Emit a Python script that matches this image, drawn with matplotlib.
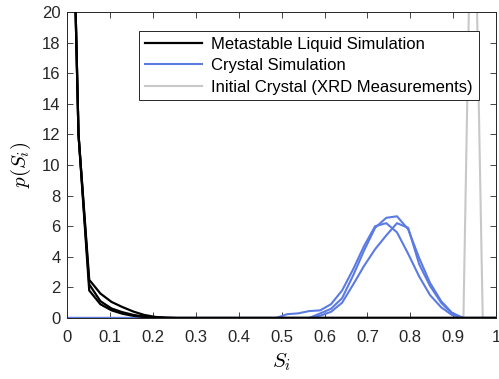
import matplotlib.pyplot as plt

plt.rcParams['font.family'] = ['Liberation Sans', 'DejaVu Sans']
plt.rcParams['mathtext.fontset'] = 'cm'

# bin centres of the histograms (S_i)
s_liquid = [0.0, 0.026, 0.051, 0.077, 0.103, 0.128, 0.154, 0.179, 0.205, 0.231, 0.256, 1.0]
liquid_1 = [43, 12, 2.5, 1.6, 1.05, 0.72, 0.42, 0.2, 0.07, 0.02, 0, 0]
liquid_2 = [43, 12, 2.2, 1.1, 0.62, 0.38, 0.2, 0.09, 0.03, 0.01, 0, 0]
liquid_3 = [43, 12, 1.8, 0.9, 0.5, 0.28, 0.14, 0.06, 0.02, 0.0, 0, 0]

s_crystal = [0.0, 0.487, 0.513, 0.538, 0.564, 0.590, 0.615, 0.641, 0.667, 0.692,
             0.718, 0.744, 0.769, 0.795, 0.821, 0.846, 0.872, 0.897, 0.923, 1.0]
crystal_1 = [0, 0, 0.25, 0.3, 0.45, 0.5, 0.9, 1.8, 3.2, 4.7,
             6.0, 6.2, 5.6, 4.2, 2.7, 1.5, 0.7, 0.2, 0, 0]
crystal_2 = [0, 0, 0, 0, 0, 0.3, 0.6, 1.3, 2.8, 4.4,
             5.9, 6.55, 6.65, 5.8, 3.9, 2.3, 1.1, 0.35, 0, 0]
crystal_3 = [0, 0, 0, 0, 0, 0.15, 0.4, 1.0, 2.2, 3.4,
             4.5, 5.4, 6.2, 5.9, 3.5, 2.1, 1.0, 0.3, 0, 0]

s_xrd = [0.0, 0.924, 0.946, 0.969, 1.0]
xrd = [0, 0, 35, 0, 0]

blue = '#5b7be3'
gray = '#c8c8c8'

fig = plt.figure(figsize=(4.99, 3.79), dpi=100)
ax = fig.add_axes([0.135, 0.161, 0.859, 0.807])

h_xrd, = ax.plot(s_xrd, xrd, color=gray, linewidth=1.5, zorder=1)
for c in [crystal_1, crystal_2, crystal_3]:
    h_cry, = ax.plot(s_crystal, c, color=blue, linewidth=1.5, zorder=2)
for l in [liquid_1, liquid_2, liquid_3]:
    h_liq, = ax.plot(s_liquid, l, color='black', linewidth=1.6, zorder=3)

ax.set_xlim(0, 1)
ax.set_ylim(0, 20)
ax.set_xticks([i / 10 for i in range(11)])
ax.set_xticklabels(['0', '0.1', '0.2', '0.3', '0.4', '0.5', '0.6', '0.7', '0.8', '0.9', '1'])
ax.set_yticks(range(0, 21, 2))
ax.tick_params(direction='in', top=True, right=True, length=4.5, width=0.6,
               labelsize=12, colors='#262626')
ax.tick_params(axis='x', pad=9)
ax.tick_params(axis='y', pad=5)
for sp in ax.spines.values():
    sp.set_color('#262626')
    sp.set_linewidth(0.7)

ax.set_xlabel(r'$S_i$', fontsize=15, labelpad=4)
ax.set_ylabel(r'$p(S_i)$', fontsize=15, labelpad=6)

leg = ax.legend([h_liq, h_cry, h_xrd],
                ['Metastable Liquid Simulation', 'Crystal Simulation',
                 'Initial Crystal (XRD Measurements)'],
                loc='upper left', bbox_to_anchor=(0.168, 0.938), fontsize=12,
                fancybox=False, framealpha=1, edgecolor='#262626',
                handlelength=3.4, handletextpad=0.55, labelspacing=0.38,
                borderpad=0.35, borderaxespad=0)
leg.get_frame().set_linewidth(0.7)

fig.savefig('out.png', dpi=100)
